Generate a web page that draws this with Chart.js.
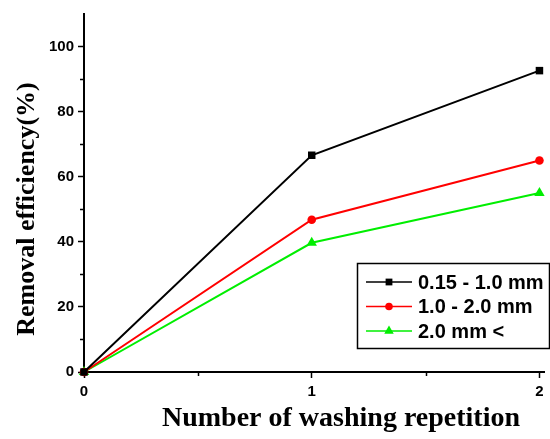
<!DOCTYPE html>
<html>
<head>
<meta charset="utf-8">
<script src="https://cdn.jsdelivr.net/npm/chart.js@4"></script>
<style>
  html, body { margin: 0; padding: 0; background: #fff; }
  #wrap { width: 550px; height: 439px; }
</style>
</head>
<body>
<div id="wrap"><canvas id="grafico"></canvas></div>
<script>
// dados
const repeticoes  = [0, 1, 2];
const faixas      = ['0.15 - 1.0 mm', '1.0 - 2.0 mm', '2.0 mm <'];
const fina        = [0, 66.6, 92.6];
const media       = [0, 46.8, 65.0];
const grossa      = [0, 39.7, 55.0];
const xTicks      = [0, 0.5, 1, 1.5, 2];
const yTicks      = [0, 10, 20, 30, 40, 50, 60, 70, 80, 90, 100];
const cores       = ['#000000', '#ff0000', '#00ee00'];
const marcadores  = ['rect', 'circle', 'triangle'];
const raios       = [5.3, 4.3, 6];

const tickFont = { family: 'Liberation Sans, Arial', size: 15, weight: 'bold' };

const series = [fina, media, grossa].map((vals, i) => ({
  label: faixas[i],
  data: repeticoes.map((x, j) => ({ x, y: vals[j] })),
  borderColor: cores[i],
  backgroundColor: cores[i],
  borderWidth: 2,
  pointStyle: marcadores[i],
  pointRadius: raios[i],
  pointHoverRadius: raios[i],
  pointBorderWidth: 0,
  clip: false
}));

// ticks menores (mais curtos) desenhados a partir das escalas
const ticksMenores = {
  id: 'ticksMenores',
  afterDraw(chart) {
    const { ctx, scales: { x, y } } = chart;
    ctx.save();
    ctx.strokeStyle = '#000';
    ctx.lineWidth = 1.5;
    ctx.beginPath();
    y.ticks.forEach(t => {
      if (t.value % 20 !== 0) {
        const py = Math.round(y.getPixelForValue(t.value)) + 0.5;
        ctx.moveTo(x.left, py); ctx.lineTo(x.left - 4, py);
      }
    });
    x.ticks.forEach(t => {
      if (!Number.isInteger(t.value)) {
        const px = Math.round(x.getPixelForValue(t.value)) + 0.5;
        ctx.moveTo(px, y.bottom); ctx.lineTo(px, y.bottom + 4);
      }
    });
    ctx.stroke();
    ctx.restore();
  }
};

// títulos dos eixos
const titulos = {
  id: 'titulos',
  afterDraw(chart) {
    const ctx = chart.ctx;
    ctx.save();
    ctx.fillStyle = '#000';
    ctx.textAlign = 'center';
    ctx.textBaseline = 'middle';
    ctx.font = 'bold 28px "Liberation Serif", "Times New Roman"';
    ctx.fillText('Number of washing repetition', 341, 419);
    ctx.translate(27, 209);
    ctx.rotate(-Math.PI / 2);
    ctx.font = 'bold 26px "Liberation Serif", "Times New Roman"';
    ctx.fillText('Removal efficiency(%)', 0, 0);
    ctx.restore();
  }
};

// legenda com moldura dentro da área do gráfico
const legendaCaixa = {
  id: 'legendaCaixa',
  afterDraw(chart) {
    const ctx = chart.ctx;
    const bx = 357, by = 263, bw = 193, bh = 86;
    ctx.save();
    ctx.fillStyle = '#fff';
    ctx.fillRect(bx, by, bw, bh);
    ctx.strokeStyle = '#000';
    ctx.lineWidth = 1.5;
    ctx.strokeRect(bx + 0.5, by + 0.5, bw - 1, bh - 1);
    chart.data.datasets.forEach((ds, i) => {
      const ly = 282 + i * 24.5;
      ctx.strokeStyle = ds.borderColor;
      ctx.lineWidth = 1.5;
      ctx.beginPath();
      ctx.moveTo(366, ly); ctx.lineTo(412, ly);
      ctx.stroke();
      ctx.fillStyle = ds.backgroundColor;
      Chart.helpers.drawPoint(ctx, {
        pointStyle: ds.pointStyle, radius: ds.pointRadius - 0.5, borderWidth: 0
      }, 389, ly);
      ctx.fillStyle = '#000';
      ctx.font = 'bold 20px "Liberation Sans", Arial';
      ctx.textBaseline = 'middle';
      ctx.fillText(ds.label, 418, ly + 1);
    });
    ctx.restore();
  }
};

new Chart(document.getElementById('grafico'), {
  type: 'line',
  data: { datasets: series },
  plugins: [ticksMenores, titulos, legendaCaixa],
  options: {
    responsive: true,
    maintainAspectRatio: false,
    animation: false,
    events: [],
    layout: { padding: { top: 14, right: 0, left: 0, bottom: 0 } },
    plugins: { legend: { display: false }, tooltip: { enabled: false } },
    scales: {
      x: {
        type: 'linear',
        min: 0, max: 2.02,
        afterFit: s => { s.height = 67; },
        afterBuildTicks: s => { s.ticks = xTicks.map(value => ({ value })); },
        border: { color: '#000', width: 2 },
        grid: {
          drawOnChartArea: false, tickLength: 6, tickWidth: 1.5,
          tickColor: c => Number.isInteger(c.tick.value) ? '#000' : 'rgba(0,0,0,0)'
        },
        ticks: {
          color: '#000', font: tickFont, padding: 5, maxRotation: 0, autoSkip: false,
          callback: v => Number.isInteger(v) ? String(v) : ''
        }
      },
      y: {
        min: 0, max: 110,
        afterFit: s => { s.width = 84; },
        afterBuildTicks: s => { s.ticks = yTicks.map(value => ({ value })); },
        border: { color: '#000', width: 2 },
        grid: {
          drawOnChartArea: false, tickLength: 6, tickWidth: 1.5,
          tickColor: c => c.tick.value % 20 === 0 ? '#000' : 'rgba(0,0,0,0)'
        },
        ticks: {
          color: '#000', font: tickFont, padding: 4, autoSkip: false,
          callback: v => v % 20 === 0 ? String(v) : ''
        }
      }
    }
  }
});
</script>
</body>
</html>
